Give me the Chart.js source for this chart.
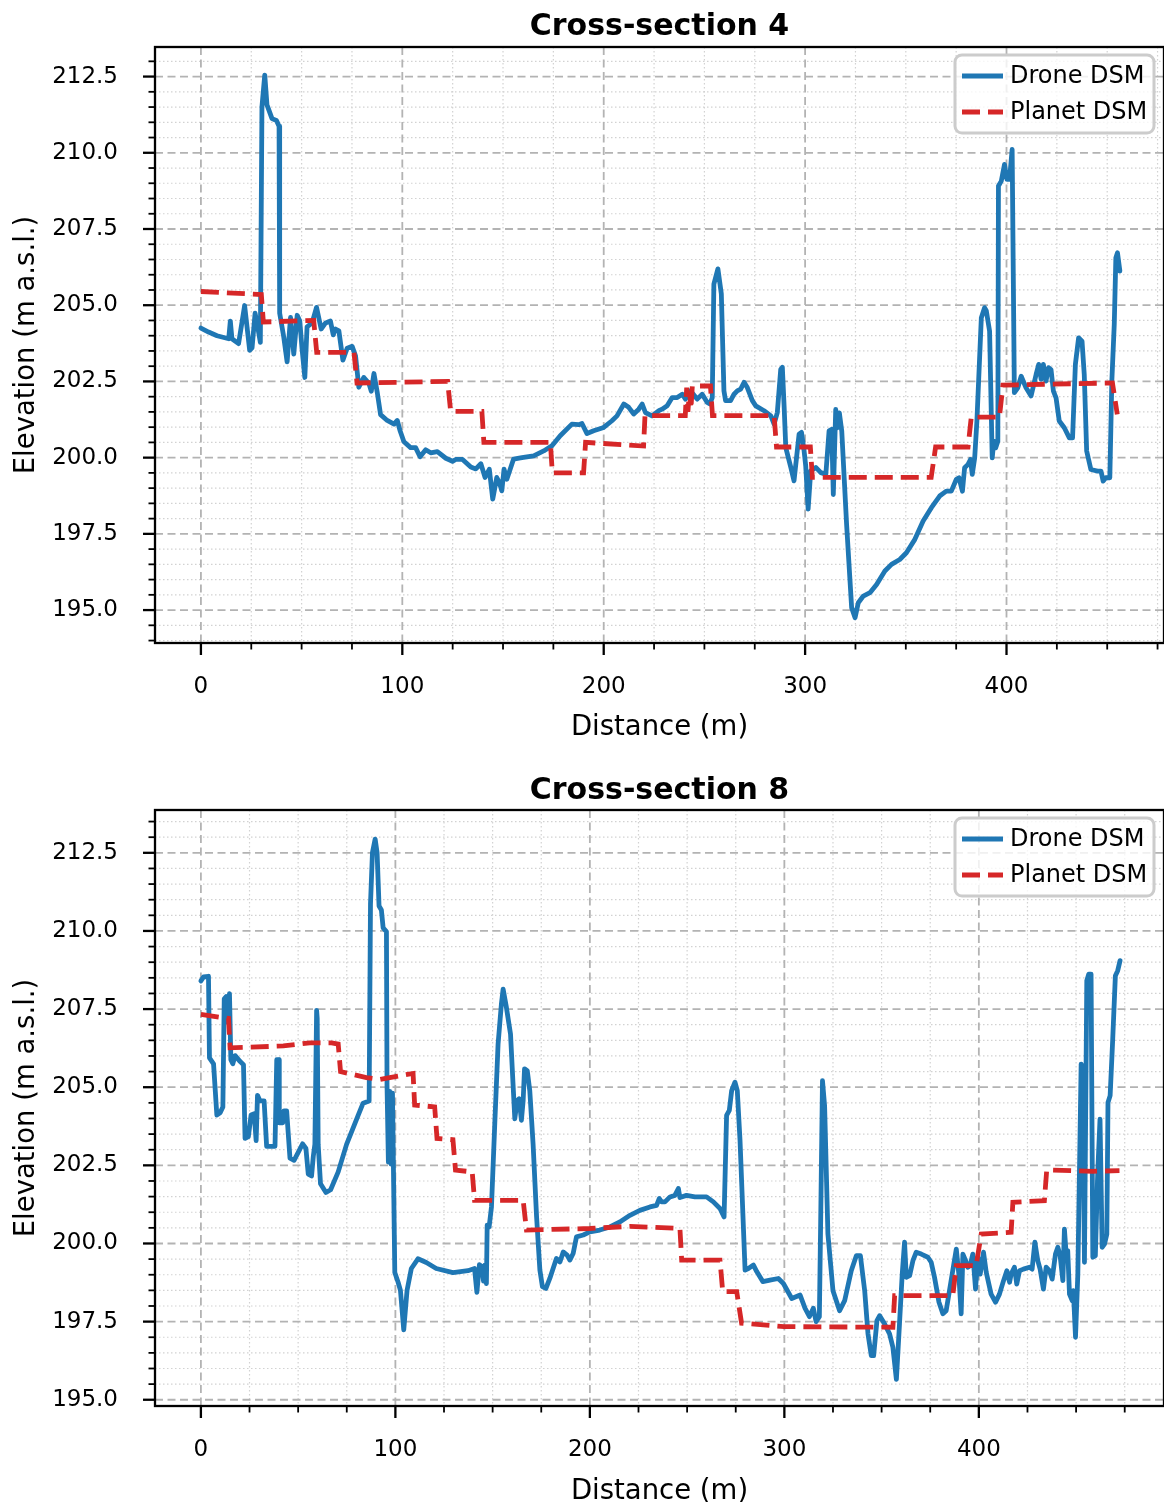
<!DOCTYPE html>
<html><head><meta charset="utf-8">
<script src="https://cdn.jsdelivr.net/npm/chart.js@4.4.0/dist/chart.umd.min.js"></script>
<style>
html,body{margin:0;padding:0;background:#fff;}
#wrap{position:relative;width:1164px;height:1502px;overflow:hidden;background:#fff;}
canvas{position:absolute;left:0;display:block;}
</style></head><body>
<div id="wrap">
<canvas id="c1" width="1164" height="760" style="top:0"></canvas>
<canvas id="c2" width="1164" height="742" style="top:760px"></canvas>
</div>
<script>
// ---------- DATA ----------
const seriesNames = ['Drone DSM', 'Planet DSM'];
const chartTitles = ['Cross-section 4', 'Cross-section 8'];
const xTickLabels = ['0', '100', '200', '300', '400'];
const yTickLabels = ['195.0', '197.5', '200.0', '202.5', '205.0', '207.5', '210.0', '212.5'];

const cs4DroneX = [0,3.8,8,13.8,14.6,15.4,18.7,21.7,24.2,25.4,26.9,28.2,29.5,30.3,31.7,32.8,35.3,37.5,38.8,39.1,41.1,42.8,44.5,46.1,47.8,49.1,50.2,51.6,52.7,55.2,57.4,59.7,61.9,64.3,65.7,66.8,68.5,70.5,72.6,75.1,76.8,78.4,80.9,83.4,84.6,85.9,87.6,89.2,92.5,95.9,97.5,98.8,100.8,104.1,106.6,108.8,111.6,114.1,117.4,121.6,124.9,126.5,129.9,134,136.5,139,141.1,143.2,144.9,146.9,148.2,149.4,150.5,151.9,155.2,159.4,165.2,170.2,174.3,178.4,184.2,187.6,189.2,191.7,195,200,204.1,206.6,210,212.4,214.9,217.4,219.1,220.7,224,227.4,229,231.5,234,236.5,239,240.6,243.1,246.4,248.9,251.4,252.7,253.9,254.7,256.7,258.4,259.7,260.5,263,264.7,266.3,268,269.7,271.3,273.8,275.5,279.6,283,284.6,286.2,287.9,288.7,289.6,290.4,292.9,294.5,297,298.2,299.5,300.3,301.5,302.8,305.3,307.8,310.3,311.9,313.2,314,315.2,316,317,318.2,320.6,323.1,324.8,326.4,328.9,332.2,335.5,339.6,342.9,347,350.3,354.5,358.6,362.7,366.8,370.1,372.6,375.1,376.4,378.1,379.2,380.9,382.1,383,384.2,385.3,387.5,389.1,390,391.6,392.9,393.7,394.6,395.7,396,397.4,399,400.2,401.5,402.8,403.9,405.6,407.3,409.7,412.2,414.7,416,417.2,418.3,419.6,420.9,422.1,423.3,424.6,426.2,428.7,431.2,432.8,434.2,435.8,437.5,438.6,439.8,441.9,445.2,446.9,448,449.3,451.3,452.3,453.5,454.3,455.1,456.3];
const cs4DroneY = [204.25,204.12,204.0,203.9,204.48,203.9,203.74,204.99,203.52,203.6,204.74,204.29,203.78,211.5,212.55,211.57,211.12,211.06,210.87,204.74,203.97,203.14,204.6,203.4,204.67,204.48,203.58,202.63,204.29,204.42,204.93,204.22,204.42,204.48,204.03,204.22,204.16,203.2,203.59,203.65,203.33,202.31,202.63,202.44,202.18,202.76,202.12,201.41,201.22,201.1,201.22,200.9,200.52,200.33,200.33,200.03,200.26,200.16,200.2,199.98,199.88,199.94,199.94,199.69,199.63,199.8,199.35,199.62,198.64,199.35,199.18,198.91,199.62,199.29,199.95,200.0,200.06,200.22,200.39,200.72,201.1,201.08,201.12,200.79,200.88,200.99,201.21,201.37,201.76,201.65,201.43,201.59,201.76,201.48,201.37,201.54,201.59,201.7,201.97,201.97,202.08,201.92,202.19,201.92,202.08,201.81,201.76,201.97,205.69,206.19,205.37,202.19,201.87,201.87,202.08,202.19,202.25,202.47,202.3,201.87,201.7,201.54,201.37,201.1,201.48,202.9,202.96,201.65,200.33,199.68,199.24,200.77,200.83,200.22,199.73,198.31,199.57,199.68,199.51,199.46,200.88,200.93,198.79,201.58,200.98,201.47,200.87,197.81,195.08,194.75,195.24,195.46,195.57,195.84,196.28,196.5,196.66,196.88,197.32,197.92,198.36,198.74,198.9,198.9,199.29,199.34,198.9,199.67,199.78,199.94,199.45,199.99,201.2,204.59,204.92,204.81,204.15,199.99,200.54,200.32,200.54,208.91,209.07,209.62,209.13,209.13,210.11,202.13,202.29,202.67,202.29,202.02,202.73,203.06,202.57,203.06,202.51,202.95,202.89,202.18,201.96,201.2,200.98,200.65,200.65,203.06,203.93,203.82,202.73,200.22,199.61,199.56,199.56,199.23,199.34,199.34,202.51,204.37,206.56,206.72,206.12];

const cs4PlanetX = [0,30,31,56,57.5,76,77.5,122.5,124,139.5,140.5,173.5,174.5,190,191,219.8,220.5,240.5,241.2,241.8,242.6,243.3,244,253,254,284.6,285.8,302.6,303.6,362.6,364.8,380.9,382.5,396.5,398.2,452.6,455];
const cs4PlanetY = [205.45,205.35,204.45,204.5,203.45,203.45,202.45,202.5,201.52,201.52,200.5,200.5,199.5,199.5,200.5,200.38,201.38,201.38,202.3,201.5,202.2,201.6,202.35,202.35,201.38,201.38,200.35,200.35,199.35,199.35,200.35,200.35,201.33,201.33,202.38,202.45,201.42];

const cs8DroneX = [0,1.4,3.9,4.4,6.5,8.2,9.9,11.3,12,13,13.7,14.7,15.4,16.4,17.6,20.2,21.9,22.7,24.4,25.8,27.4,28.4,29.1,30.4,32.5,33.8,38.1,39,40.2,40.3,42.1,42.7,44.1,45.8,47.9,50.1,52.3,54,55.2,56.9,57.8,58.6,59.5,59.8,60.3,61.5,64.3,66.7,70.6,74.9,80.9,83.4,86.5,87.2,88.2,89.6,90.6,91.6,92.8,93.7,95.4,95.7,96.4,97.1,97.8,98.5,99.7,101.4,102.6,104.3,106,108.2,111.6,115.9,121,129.6,137.3,140.7,141.9,143.2,144.6,145.3,146,146.8,147.2,148.2,149.4,151.1,152.8,154.5,155.4,157.1,159.2,160.5,161.4,162.6,163.6,164.8,165.7,166.4,167.8,169.1,170.8,172.6,174.3,175.6,177.4,179.4,181.1,182.8,184.6,186.3,188.3,189.7,191.4,193.1,196.6,200,205.1,210.3,215.4,220.6,225.7,230.9,234.3,235.7,236.9,238.6,241.2,243.7,245.5,246.3,249.7,254,260,263.5,266.9,269,270.3,271.7,272.9,274.6,275.8,277.2,279.8,281.5,284.1,285.8,288.9,292.6,296.9,299.5,303.8,308.1,310.6,312.9,314.9,316.3,318,318.7,319.6,320.7,322.4,325,328.4,331,334.4,337,339.1,341.3,343,344.7,345.9,347.6,349,351.5,354.1,355.8,357.6,359.2,360.6,361.8,362.7,364.4,366.1,367.8,370.4,373.8,375.5,377.2,379.5,381.5,383.2,384.9,387,388.4,389.7,390.9,391.8,393.2,394.3,395.5,396.9,398.3,399.5,400.7,402.4,403.8,406.3,408.6,410.6,412.7,414.4,415.8,416.6,418.3,419.5,420.9,422.9,426,427.4,428.8,430.3,431.5,433.2,434.6,436.3,437.7,439.4,440.6,441.8,443.2,444,444.9,445.7,446.6,448,448.6,449.7,450.9,452.6,453.4,454.3,455.5,456.5,457.7,458.6,459.9,461.1,462.3,463.4,464.6,465.8,466.4,467.5,468.8,470.2,471.4,472.6];
const cs8DroneY = [208.4,208.53,208.55,205.94,205.75,204.11,204.18,204.37,207.83,207.9,207.08,207.99,205.88,205.75,206.01,205.82,205.72,203.36,203.42,204.11,204.15,203.29,204.74,204.56,204.56,203.11,203.11,205.88,205.88,203.86,203.86,204.24,204.24,202.73,202.66,202.92,203.19,203.04,202.22,202.16,202.79,203.17,207.46,207.2,203.17,201.91,201.63,201.72,202.29,203.17,204.11,204.49,204.56,210.86,212.5,212.94,212.5,210.8,210.67,210.1,209.98,205.06,202.6,204.87,202.54,204.81,199.07,198.76,198.5,197.24,198.5,199.2,199.51,199.39,199.2,199.07,199.13,199.2,198.44,199.32,199.26,198.8,199.31,198.72,200.59,200.53,201.17,203.83,206.38,207.66,208.14,207.55,206.7,205.1,203.99,204.57,204.63,203.94,204.57,205.59,205.53,204.89,203.19,200.85,199.15,198.62,198.56,198.88,199.2,199.52,199.41,199.73,199.63,199.47,199.68,200.21,200.27,200.37,200.43,200.53,200.69,200.9,201.06,201.17,201.22,201.44,201.33,201.33,201.49,201.54,201.76,201.47,201.54,201.49,201.49,201.33,201.12,200.85,204.1,204.26,204.89,205.16,204.89,203.3,199.15,199.2,199.31,199.1,198.78,198.83,198.88,198.72,198.24,198.35,197.93,197.66,197.93,197.5,197.66,200.85,205.21,204.4,200.3,198.49,197.85,198.17,199.13,199.61,199.61,198.49,197.11,196.41,196.41,197.53,197.69,197.43,197.11,196.68,195.65,197.43,199.02,200.04,198.92,198.97,199.45,199.72,199.66,199.56,199.4,198.92,198.12,197.75,197.85,198.49,199.29,199.82,199.02,197.75,199.66,199.45,199.24,199.29,199.66,198.54,199.56,199.02,199.72,199.08,198.38,198.12,198.38,198.81,199.13,198.76,199.02,199.24,198.7,199.13,199.18,199.24,199.18,200.04,199.45,199.18,198.54,199.24,199.13,198.86,199.66,199.88,199.61,198.81,200.46,199.66,199.77,198.38,198.17,198.49,197.0,199.02,205.74,205.63,199.4,208.41,208.62,208.62,199.56,199.61,202.22,203.98,199.88,199.98,200.3,204.51,204.73,206.49,208.57,208.73,209.05];

const cs8PlanetX = [0,14.2,15,42.4,56,67.2,70.6,71.8,85.1,92,97.1,109.1,109.9,120.2,121.4,129.6,130.9,139.5,140.7,165.7,167.4,200,220.6,246.3,247.2,266.9,268.3,275.5,278,299.8,355.8,356.7,386.6,388.4,398.6,401.2,416.6,417.5,433.7,434.9,458.6,472.3];
const cs8PlanetY = [207.33,207.2,206.26,206.32,206.42,206.42,206.38,205.5,205.31,205.25,205.31,205.44,204.43,204.37,203.36,203.32,202.35,202.29,201.38,201.38,200.43,200.48,200.55,200.48,199.47,199.47,198.46,198.46,197.45,197.34,197.32,198.33,198.33,199.29,199.29,200.3,200.36,201.32,201.37,202.35,202.31,202.33];

// ---------- STYLE ----------
const FONT = "'DejaVu Sans', 'Liberation Sans', sans-serif";
const BLUE = '#1f77b4';
const RED = '#d62728';
Chart.defaults.font.family = FONT;
Chart.defaults.color = '#000';

function toXY(xs, ys) { return xs.map((x, i) => ({ x: x, y: ys[i] })); }
function isMajorX(v) { return Math.abs(v / 100 - Math.round(v / 100)) < 1e-9; }
function isMajorY(v) { return Math.abs(v / 2.5 - Math.round(v / 2.5)) < 1e-9; }

const decor = {
  id: 'decor',
  beforeDatasetsDraw(chart) {
    const { ctx, chartArea: a, scales: { x, y } } = chart;
    ctx.save();
    ctx.beginPath();
    ctx.rect(a.left, a.top, a.right - a.left, a.bottom - a.top);
    ctx.clip();
    const drawLine = (x1, y1, x2, y2, major) => {
      ctx.beginPath();
      ctx.strokeStyle = major ? '#b3b3b3' : '#d2d2d2';
      ctx.lineWidth = major ? 1.8 : 1.2;
      ctx.setLineDash(major ? [8, 4.5] : [1.5, 2.5]);
      ctx.moveTo(x1, y1); ctx.lineTo(x2, y2);
      ctx.stroke();
    };
    for (const wantMajor of [false, true]) {
      x.ticks.forEach(t => {
        const m = isMajorX(t.value);
        if (m !== wantMajor) return;
        const px = x.getPixelForValue(t.value);
        drawLine(px, a.top, px, a.bottom, m);
      });
      y.ticks.forEach(t => {
        const m = isMajorY(t.value);
        if (m !== wantMajor) return;
        const py = y.getPixelForValue(t.value);
        drawLine(a.left, py, a.right, py, m);
      });
    }
    ctx.restore();
  },
  afterDraw(chart) {
    const { ctx, chartArea: a, scales: { x, y } } = chart;
    ctx.save();
    ctx.setLineDash([]);
    ctx.strokeStyle = '#000';
    x.ticks.forEach(t => {
      const m = isMajorX(t.value);
      const px = x.getPixelForValue(t.value);
      ctx.lineWidth = m ? 2.3 : 1.8;
      ctx.beginPath();
      ctx.moveTo(px, a.bottom);
      ctx.lineTo(px, a.bottom + (m ? 12 : 6.5));
      ctx.stroke();
    });
    y.ticks.forEach(t => {
      const m = isMajorY(t.value);
      const py = y.getPixelForValue(t.value);
      ctx.lineWidth = m ? 2.3 : 1.8;
      ctx.beginPath();
      ctx.moveTo(a.left, py);
      ctx.lineTo(a.left - (m ? 12 : 6.5), py);
      ctx.stroke();
    });
    ctx.lineWidth = 2.3;
    ctx.strokeRect(a.left, a.top, a.right - a.left, a.bottom - a.top);
    // legend
    const bx = 955, by = a.top + 8, bw = 199, bh = 78, r = 7;
    ctx.beginPath();
    ctx.moveTo(bx + r, by);
    ctx.lineTo(bx + bw - r, by);
    ctx.arcTo(bx + bw, by, bx + bw, by + r, r);
    ctx.lineTo(bx + bw, by + bh - r);
    ctx.arcTo(bx + bw, by + bh, bx + bw - r, by + bh, r);
    ctx.lineTo(bx + r, by + bh);
    ctx.arcTo(bx, by + bh, bx, by + bh - r, r);
    ctx.lineTo(bx, by + r);
    ctx.arcTo(bx, by, bx + r, by, r);
    ctx.closePath();
    ctx.fillStyle = 'rgba(255,255,255,0.8)';
    ctx.fill();
    ctx.strokeStyle = '#cccccc';
    ctx.lineWidth = 3;
    ctx.stroke();
    chart.data.datasets.forEach((ds, i) => {
      const ly = by + 21 + i * 36;
      ctx.beginPath();
      ctx.strokeStyle = ds.borderColor;
      ctx.lineWidth = ds.borderWidth;
      ctx.setLineDash(ds.borderDash || []);
      ctx.lineCap = 'butt';
      ctx.moveTo(bx + 7, ly);
      ctx.lineTo(bx + 48, ly);
      ctx.stroke();
      ctx.setLineDash([]);
      ctx.fillStyle = '#000';
      ctx.font = '24px ' + FONT;
      ctx.textBaseline = 'middle';
      ctx.textAlign = 'left';
      ctx.fillText(ds.label, bx + 55, ly + 1);
    });
    ctx.restore();
  }
};

function makeChart(id, cfg) {
  return new Chart(document.getElementById(id), {
    type: 'line',
    data: {
      datasets: [
        { label: seriesNames[0], data: toXY(cfg.droneX, cfg.droneY), borderColor: BLUE, backgroundColor: BLUE,
          borderWidth: 4.8, pointRadius: 0, tension: 0, fill: false, borderJoinStyle: 'round', borderCapStyle: 'round', order: 1 },
        { label: seriesNames[1], data: toXY(cfg.planetX, cfg.planetY), borderColor: RED, backgroundColor: RED,
          borderWidth: 4.8, borderDash: [18, 8], pointRadius: 0, tension: 0, fill: false, borderCapStyle: 'butt', order: 0 }
      ]
    },
    options: {
      responsive: false, animation: false, devicePixelRatio: 1,
      layout: { padding: { left: 0, right: 0, top: 0, bottom: 0 } },
      plugins: {
        legend: { display: false },
        tooltip: { enabled: false },
        title: { display: true, fullSize: false, text: cfg.title, color: '#000',
          font: { family: FONT, size: 30, weight: 'bold', lineHeight: 1.2 },
          padding: { top: cfg.titleTop, bottom: cfg.titleBottom } }
      },
      scales: {
        x: {
          type: 'linear', min: cfg.xMin, max: cfg.xMax,
          afterFit: s => { s.height = cfg.xAxisHeight; s.paddingLeft = 0; s.paddingRight = 0; },
          grid: { display: false, drawTicks: false },
          border: { display: false },
          ticks: { stepSize: 25, autoSkip: false, maxRotation: 0, minRotation: 0, includeBounds: false,
            padding: 30, color: '#000', font: { family: FONT, size: 23 },
            callback: v => { const s = String(Math.round(v)); return (isMajorX(v) && xTickLabels.includes(s)) ? s : ''; } },
          title: { display: true, text: 'Distance (m)', color: '#000',
            font: { family: FONT, size: 27.5, lineHeight: cfg.xTitleLH }, padding: { top: 0, bottom: cfg.xTitlePad } }
        },
        y: {
          type: 'linear', min: cfg.yMin, max: cfg.yMax,
          afterFit: s => { s.width = 155; s.paddingTop = 0; s.paddingBottom = 0; },
          grid: { display: false, drawTicks: false },
          border: { display: false },
          ticks: { stepSize: 0.5, autoSkip: false, includeBounds: false,
            padding: 37, color: '#000', font: { family: FONT, size: 23 },
            callback: v => { const s = Number(v).toFixed(1); return (isMajorY(v) && yTickLabels.includes(s)) ? s : ''; } },
          title: { display: true, text: 'Elevation (m a.s.l.)', color: '#000',
            font: { family: FONT, size: 27.5, lineHeight: 1 }, padding: { top: 13, bottom: 0 } }
        }
      }
    },
    plugins: [decor]
  });
}

makeChart('c1', {
  title: chartTitles[0], droneX: cs4DroneX, droneY: cs4DroneY, planetX: cs4PlanetX, planetY: cs4PlanetY,
  xMin: -22.8, xMax: 478.2, yMin: 193.92, yMax: 213.47,
  titleTop: 9.5, titleBottom: 1.5, xAxisHeight: 117, xTitlePad: 18.5, xTitleLH: 1
});
makeChart('c2', {
  title: chartTitles[1], droneX: cs8DroneX, droneY: cs8DroneY, planetX: cs8PlanetX, planetY: cs8PlanetY,
  xMin: -23.6, xMax: 495.2, yMin: 194.8, yMax: 213.87,
  titleTop: 13.5, titleBottom: 0.5, xAxisHeight: 96, xTitlePad: 0, xTitleLH: 0.75
});
</script>
</body></html>
